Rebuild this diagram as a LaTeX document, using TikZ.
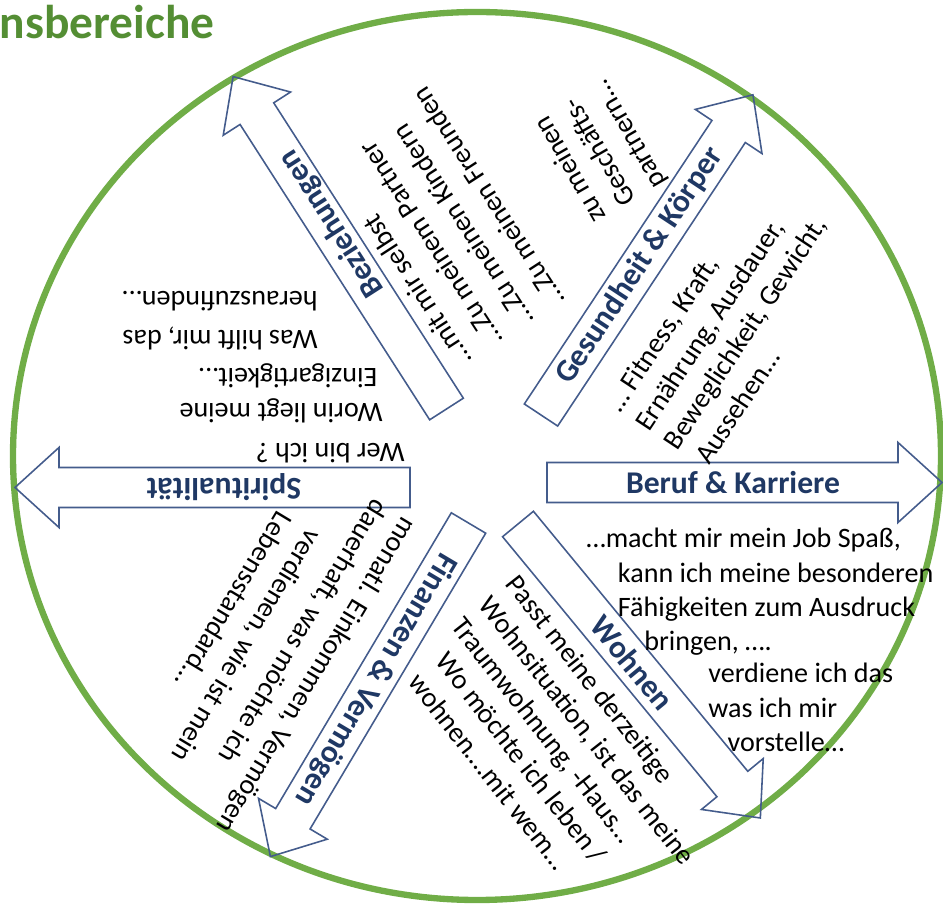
\documentclass[tikz,border=0pt]{standalone}
\usepackage{fontspec}
\setmainfont{Carlito}
\usetikzlibrary{positioning}

\definecolor{rimgreen}{RGB}{112,173,71}
\definecolor{titlegreen}{RGB}{84,142,52}
\definecolor{arrowblue}{RGB}{68,92,140}
\definecolor{labelblue}{RGB}{31,56,100}

\tikzset{
  rim/.style={draw=rimgreen, line width=3.6pt},
  arrowline/.style={draw=arrowblue, line width=0.9pt, line join=miter},
  arrowlabel/.style={font=\fontsize{18}{21}\selectfont\bfseries, text=labelblue, inner sep=0pt},
  bodytext/.style={font=\fontsize{16}{19.5}\selectfont, align=left, inner sep=0pt, anchor=north west},
}

\begin{document}
\begin{tikzpicture}[x=0.02cm, y=0.02cm]
    \useasboundingbox (0,0) rectangle (943,906);
    \clip (0,0) rectangle (943,906);

    % Title (cut off on the left)
    \node[font=\fontsize{27}{30}\selectfont\bfseries, text=titlegreen, anchor=base east, inner sep=0pt] (title) at (215,867) {nsbereiche};

    % Green circle
    \draw[rim] (477,450) ellipse [x radius=464, y radius=444];

    % Arrows with their labels
    \begin{scope}[shift={(547,423.5)}, rotate=0]
        \draw[arrowline] (0,-20) -- (351,-20) -- (351,-40) -- (395,0) -- (351,40) -- (351,20) -- (0,20) -- cycle;
        \node[arrowlabel, rotate=0] (beruf) at (186,0) {Beruf \& Karriere};
    \end{scope}
    \begin{scope}[shift={(541,491)}, rotate=56.5]
        \draw[arrowline] (0,-20) -- (340,-20) -- (340,-40) -- (384,0) -- (340,40) -- (340,20) -- (0,20) -- cycle;
        \node[arrowlabel, rotate=56.5] (gesundheit) at (179,0) {Gesundheit \& Körper};
    \end{scope}
    \begin{scope}[shift={(446.5,497)}, rotate=122.7]
        \draw[arrowline] (0,-20) -- (351,-20) -- (351,-40) -- (395,0) -- (351,40) -- (351,20) -- (0,20) -- cycle;
        \node[arrowlabel, rotate=122.7] (beziehungen) at (218,-4) {Beziehungen};
    \end{scope}
    \begin{scope}[shift={(410,418.5)}, rotate=180]
        \draw[arrowline] (0,-20) -- (351,-20) -- (351,-40) -- (395,0) -- (351,40) -- (351,20) -- (0,20) -- cycle;
        \node[arrowlabel, rotate=180] (spiritualitaet) at (186,0) {Spiritualität};
    \end{scope}
    \begin{scope}[shift={(468.5,383)}, rotate=-120.7]
        \draw[arrowline] (0,-20) -- (344,-20) -- (344,-40) -- (388,0) -- (344,40) -- (344,20) -- (0,20) -- cycle;
        \node[arrowlabel, rotate=-120.7] (finanzen) at (182,0) {Finanzen \& Vermögen};
    \end{scope}
    \begin{scope}[shift={(518,382)}, rotate=-50.5]
        \draw[arrowline] (0,-20) -- (337,-20) -- (337,-40) -- (381,0) -- (337,40) -- (337,20) -- (0,20) -- cycle;
        \node[arrowlabel, rotate=-50.5] (wohnen) at (180,0) {Wohnen};
    \end{scope}

    % Questions for each area
    \node[bodytext] (job) at (586,378) {…macht mir mein Job Spaß,\\ \hspace*{18pt}kann ich meine besonderen\\ \hspace*{18pt}Fähigkeiten zum Ausdruck\\ \hspace*{33pt}bringen, ….};
    \node[bodytext] (verdienst) at (708,243) {verdiene ich das\\ was ich mir\\ \hspace*{11pt}vorstelle…};
    \node[bodytext, rotate=56.5] (fitness) at (604,503) {… Fitness, Kraft,\\ Ernährung, Ausdauer,\\ Beweglichkeit, Gewicht,\\ \hspace*{3pt}Aussehen…};
    \node[bodytext, rotate=123, font=\fontsize{16}{21}\selectfont] (partner) at (456,535) {…mit mir selbst\\ …Zu meinem Partner\\ …Zu meinen Kindern\\ …Zu meinen Freunden};
    \node[bodytext, rotate=120] (geschaeft) at (590,679) {zu meinen\\ Geschäfts-\\ partnern…};
    \node[bodytext, rotate=180] (werbinich) at (405,443) {Wer bin ich ?};
    \node[bodytext, rotate=180] (einzig) at (383,483) {Worin liegt meine\\ \hspace*{3pt}Einzigartigkeit…};
    \node[bodytext, rotate=180, font=\fontsize{16}{22}\selectfont] (herausfinden) at (318,556) {Was hilft mir, das\\ herauszufinden…};
    \node[bodytext, rotate=-121] (einkommen) at (420,381) {monatl. Einkommen, Vermögen\\ dauerhaft, was möchte ich\\[4pt] \hspace*{34pt}verdienen, wie ist mein\\ \hspace*{34pt}Lebensstandard…};
    \node[bodytext, rotate=-52] (wohnsituation) at (520,334) {Passt meine derzeitige\\ Wohnsituation, ist das meine\\ Traumwohnung, -Haus…\\ \hspace*{10pt}Wo möchte ich leben /\\ \hspace*{10pt}wohnen….mit wem…};
\end{tikzpicture}
\end{document}
